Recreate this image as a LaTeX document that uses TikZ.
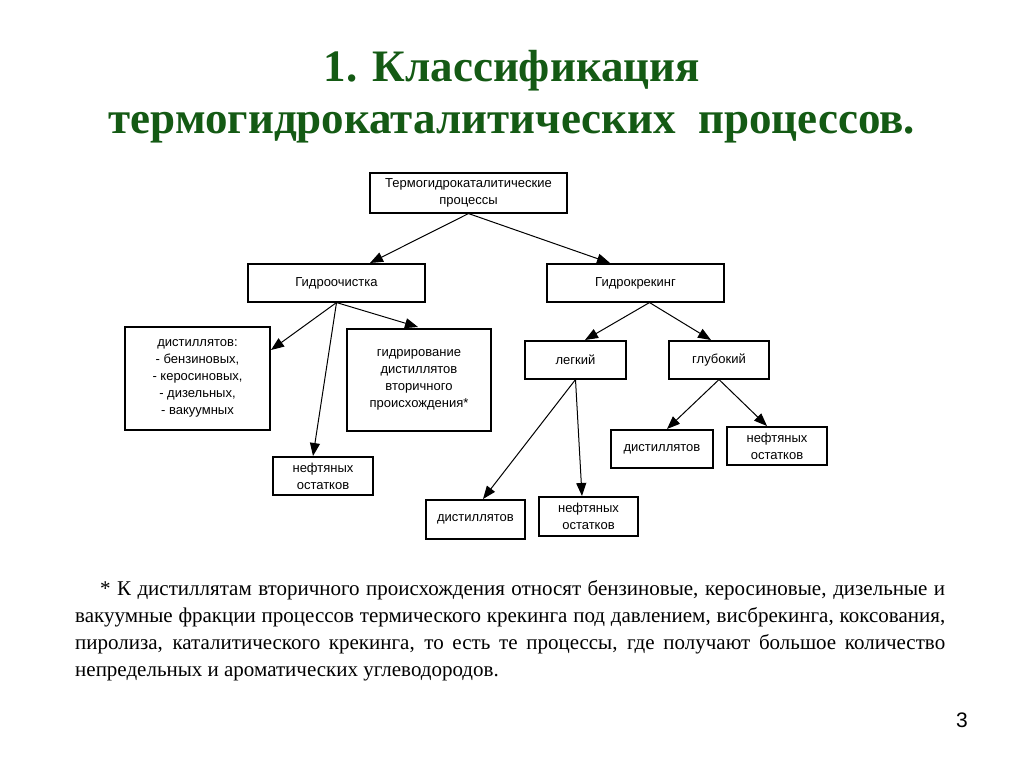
\documentclass[tikz,border=0pt]{standalone}
\usepackage{fontspec}
\setmainfont{Liberation Serif}
\newfontfamily\arialf{Liberation Sans}
\usetikzlibrary{arrows.meta}
\begin{document}
\begin{tikzpicture}[x=1pt,y=-1pt,
  bx/.style={draw,line width=1.1pt,fill=white,font=\arialf\fontsize{13}{17}\selectfont,align=center,inner sep=0pt},
  ar/.style={-{Triangle[length=13pt,width=10pt]},line width=1pt}]
\useasboundingbox (0,0) rectangle (1024,767);
\fill[white] (0,0) rectangle (1024,767);
\definecolor{tg}{RGB}{20,90,20}
\node[font=\bfseries\fontsize{45}{52}\selectfont,text=tg,align=center] (title) at (512,97) {1. Классификация\\термогидрокаталитических\ \ процессов.};
\newcommand\bb[6]{\node[bx,minimum width=#4-#2,minimum height=#5-#3] (#1) at ({(#2+#4)/2},{(#3+#5)/2}) {#6};}
\bb{top}{370}{173}{567}{213}{Термогидрокаталитические\\процессы}
\bb{go}{248}{264}{425}{302}{Гидроочистка}
\bb{gk}{547}{264}{724}{302}{Гидрокрекинг}
\bb{dl}{125}{327}{270}{430}{дистиллятов:\\- бензиновых,\\- керосиновых,\\- дизельных,\\- вакуумных}
\bb{gd}{347}{329}{491}{431}{гидрирование\\дистиллятов\\вторичного\\происхождения*}
\bb{no}{273}{457}{373}{495}{нефтяных\\остатков}
\bb{lg}{525}{341}{626}{379}{легкий}
\bb{gl}{669}{341}{769}{379}{глубокий}
\bb{dr}{611}{430}{713}{468}{дистиллятов}
\bb{nr}{727}{427}{827}{465}{нефтяных\\остатков}
\bb{db}{426}{500}{525}{539}{дистиллятов}
\bb{nb}{539}{497}{638}{536}{нефтяных\\остатков}
\draw[ar] (top.south) -- (370,263);
\draw[ar] (top.south) -- (610,263);
\draw[ar] (go.south) -- (271,350);
\draw[ar] (go.south) -- (313,456);
\draw[ar] (go.south) -- (418,327);
\draw[ar] (gk.south) ++(14,0) -- (585,340);
\draw[ar] (gk.south) ++(14,0) -- (711,340);
\draw[ar] (lg.south) -- (483,499);
\draw[ar] (lg.south) -- (582,496);
\draw[ar] (gl.south) -- (667,429);
\draw[ar] (gl.south) -- (767,426);
\node[anchor=north west,text width=870pt,align=justify,font=\fontsize{21}{27}\selectfont,inner sep=0pt] (note) at (75,580) {\hspace*{25pt}* К дистиллятам вторичного происхождения относят бензиновые, керосиновые, дизельные и вакуумные фракции процессов термического крекинга под давлением, висбрекинга, коксования, пиролиза, каталитического крекинга, то есть те процессы, где получают большое количество непредельных и ароматических углеводородов.};
\node[font=\arialf\fontsize{21}{22}\selectfont] (pg) at (962,720) {3};
\end{tikzpicture}
\end{document}
